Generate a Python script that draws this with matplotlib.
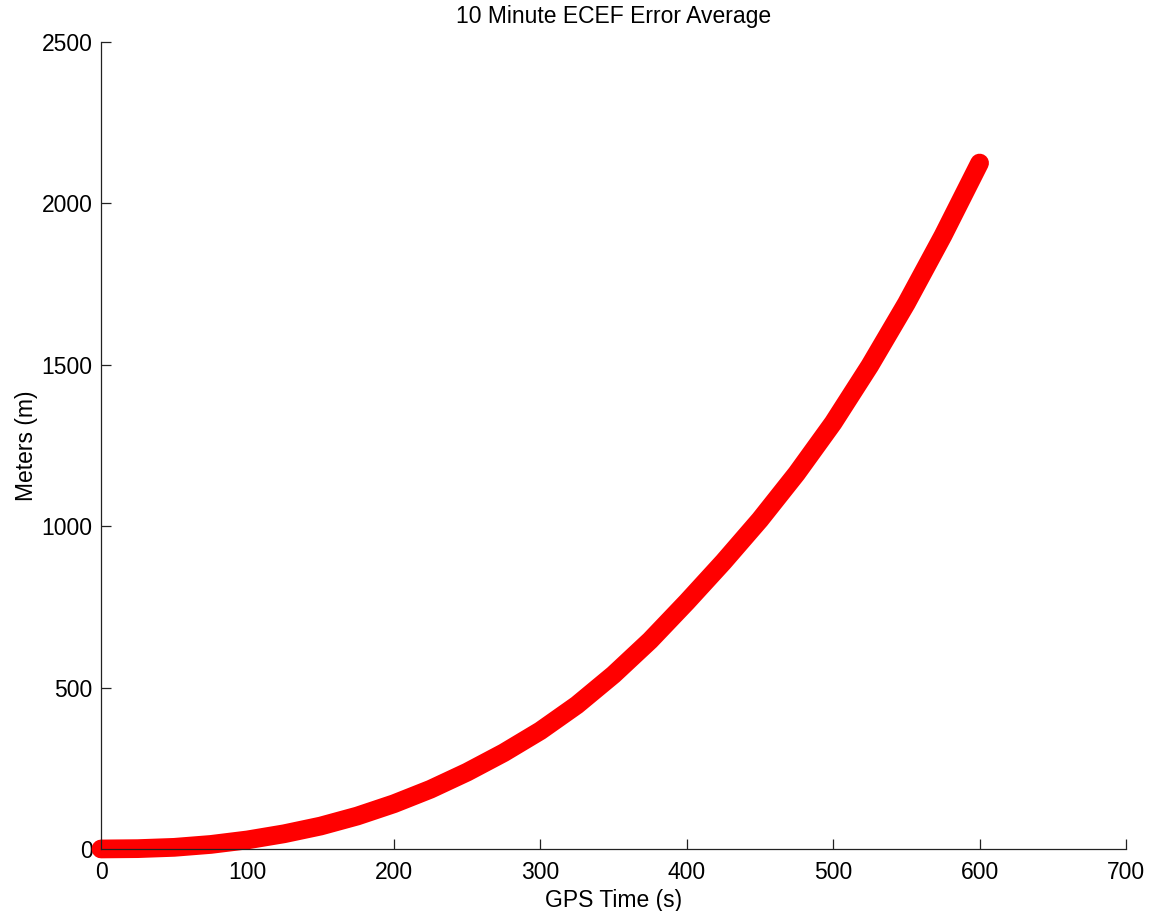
import matplotlib.pyplot as plt

# GPS time (s) and average ECEF error (m)
time_s = [0, 25, 50, 75, 100, 125, 150, 175, 200, 225, 250, 275, 300,
          325, 350, 375, 400, 425, 450, 475, 500, 525, 550, 575, 600]
error_m = [0, 1, 5, 14, 28, 47, 71, 102, 140, 185, 238, 298, 366,
           446, 540, 646, 765, 889, 1020, 1163, 1320, 1497, 1690, 1900, 2125]

x_ticks = [0, 100, 200, 300, 400, 500, 600, 700]
y_ticks = [0, 500, 1000, 1500, 2000, 2500]

plt.rcParams['font.family'] = ['Liberation Sans', 'DejaVu Sans']
plt.rcParams['font.size'] = 16.5

fig = plt.figure(figsize=(11.53, 9.11), dpi=100)
ax = fig.add_axes([0.0876, 0.0681, 0.889, 0.8858])

ax.plot(time_s, error_m, color='#ff0000', linewidth=13.5,
        solid_capstyle='round', solid_joinstyle='round', clip_on=False)

ax.set_xlim(0, 700)
ax.set_ylim(0, 2500)
ax.set_xticks(x_ticks)
ax.set_yticks(y_ticks)

ax.spines['top'].set_visible(False)
ax.spines['right'].set_visible(False)
for side in ['left', 'bottom']:
    ax.spines[side].set_linewidth(0.9)
    ax.spines[side].set_color('#222222')
ax.tick_params(direction='in', length=7, width=0.9, color='#222222')
ax.tick_params(axis='x', pad=9)
ax.tick_params(axis='y', pad=6)

ax.set_title("10 Minute ECEF Error Average", fontsize=16.5, pad=14)
ax.set_xlabel("GPS Time (s)", fontsize=16.5, labelpad=3)
ax.set_ylabel("Meters (m)", fontsize=16.5, labelpad=3)

fig.savefig("out.png", dpi=100)
